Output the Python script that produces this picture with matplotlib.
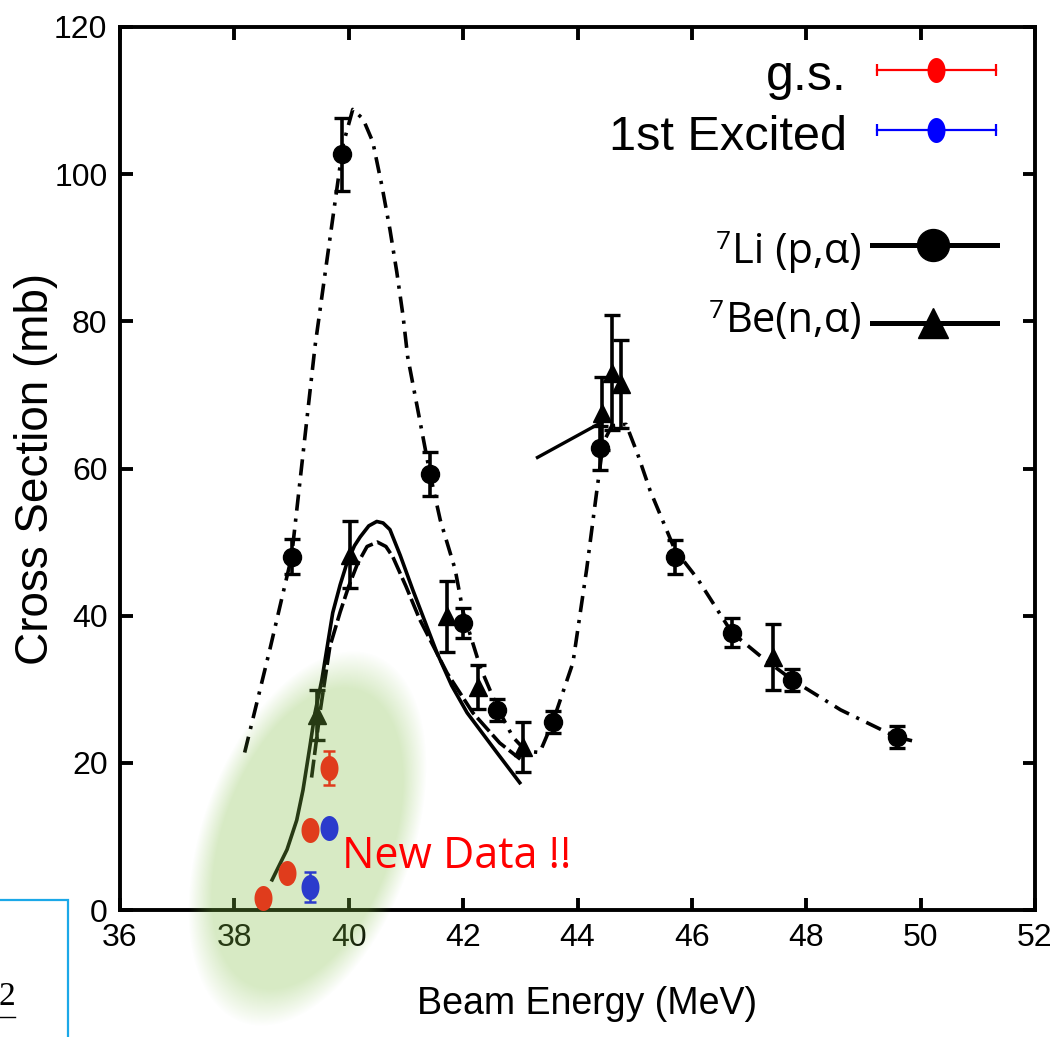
import numpy as np
import matplotlib
matplotlib.use('Agg')
import matplotlib.pyplot as plt
from matplotlib.patches import Rectangle
from matplotlib.lines import Line2D

# ---- dados ----
# 7Li(p,a): pontos experimentais (circulos)
li_x = [39.0, 39.88, 41.42, 42.0, 42.6, 43.57, 44.4, 45.7, 46.7, 47.75, 49.58]
li_y = [48.0, 102.7, 59.3, 39.0, 27.2, 25.6, 62.8, 48.0, 37.7, 31.3, 23.5]
li_err = [2.4, 5.0, 3.0, 2.0, 1.5, 1.5, 3.0, 2.3, 2.0, 1.5, 1.5]

# 7Be(n,a): pontos experimentais (triangulos)
be_x = [39.45, 40.02, 41.72, 42.26, 43.05, 44.43, 44.6, 44.76, 47.42]
be_y = [26.5, 48.3, 39.9, 30.3, 22.2, 67.5, 73.0, 71.5, 34.4]
be_err = [3.4, 4.6, 4.8, 3.0, 3.4, 5.0, 7.8, 6.0, 4.5]

# curva traco-ponto (ajuste 7Li(p,a))
fitA_x = [38.18, 38.62, 39.0, 39.41, 39.62, 39.9, 40.07, 40.25, 40.42, 40.58, 40.72,
          40.84, 40.95, 41.03, 41.42, 41.6, 41.86, 42.0, 42.3, 42.6, 42.87, 43.1,
          43.34, 43.57, 43.92, 44.16, 44.34, 44.45, 44.6, 44.85, 45.05, 45.27, 45.7,
          46.1, 46.7, 47.2, 47.75, 48.6, 49.58, 49.85]
fitA_y = [21.4, 35.4, 48.0, 76.6, 88.4, 104.0, 108.8, 107.5, 104.4, 98.4, 92.5,
          86.7, 80.7, 75.2, 59.3, 53.0, 46.3, 40.5, 33.0, 27.5, 23.5, 21.6,
          21.4, 25.6, 33.6, 46.3, 57.1, 63.5, 65.8, 66.0, 62.0, 57.0, 49.0,
          45.0, 37.7, 34.5, 31.3, 27.2, 23.5, 23.0]

# curva solida (7Be(n,a))
fitB_x = [38.66, 38.92, 39.09, 39.2, 39.32, 39.41, 39.53, 39.72, 39.85, 39.97, 40.1,
          40.2, 40.35, 40.49, 40.6, 40.72, 40.9, 41.12, 41.54, 41.8, 42.07, 42.59, 42.99]
fitB_y = [4.1, 8.2, 12.2, 16.3, 22.2, 26.8, 31.3, 40.4, 44.2, 47.2, 49.5,
          50.7, 52.2, 52.8, 52.6, 51.7, 48.2, 43.5, 35.0, 30.5, 26.8, 21.4, 17.3]

# curva tracejada
fitC_x = [39.35, 39.5, 39.67, 39.85, 40.0, 40.15, 40.32, 40.5, 40.65, 40.77, 41.0,
          41.24, 41.72, 42.17, 42.64, 43.0]
fitC_y = [18.0, 27.0, 35.8, 40.5, 44.0, 47.0, 49.4, 50.0, 49.4, 48.0, 44.0,
          39.5, 32.2, 26.8, 22.7, 20.5]

# segmento solido no segundo pico
segB_x = [43.3, 44.45]
segB_y = [61.5, 66.4]

# novos dados
gs_x = [38.5, 38.92, 39.32, 39.65]
gs_y = [1.6, 5.0, 10.9, 19.3]
gs_err = [1.0, 1.0, 1.0, 2.3]
ex_x = [39.32, 39.65]
ex_y = [3.1, 11.2]
ex_err = [2.0, 1.0]

xticks = [36, 38, 40, 42, 44, 46, 48, 50, 52]
yticks = [0, 20, 40, 60, 80, 100, 120]

NARROW = ['Liberation Sans Narrow', 'Liberation Sans', 'DejaVu Sans']
WIDE = ['Liberation Sans', 'DejaVu Sans']
CAL = ['Open Sans', 'DejaVu Sans']

RED = '#E03C1C'
BLUE = '#2B3BCC'

W, H = 1050, 1037
fig = plt.figure(figsize=(W / 100, H / 100), dpi=100)
ax = fig.add_axes([120 / W, 1 - 910 / H, 915 / W, 883 / H])

# curvas
ax.plot(fitA_x, fitA_y, color='k', lw=2.6, dashes=(4.5, 2.2, 0.9, 2.2), zorder=2)
ax.plot(fitB_x, fitB_y, color='k', lw=2.6, zorder=2)
ax.plot(fitC_x, fitC_y, color='k', lw=2.6, dashes=(5, 1.3), zorder=2)
ax.plot(segB_x, segB_y, color='k', lw=2.4, zorder=2)

# dados antigos
ax.errorbar(li_x, li_y, yerr=li_err, fmt='o', color='k', ms=13, elinewidth=2.6,
            capsize=6, capthick=2.4, zorder=2)
ax.errorbar(be_x, be_y, yerr=be_err, fmt='^', color='k', ms=13, elinewidth=2.6,
            capsize=6, capthick=2.4, zorder=2)

# elipse verde (camada semitransparente em coordenadas de pixel)
gx, gy = np.meshgrid(np.arange(150, 470), np.arange(640, 1037))
cx, cy = 307, 838
ux, uy = 120 / 356, -335 / 356
dx, dy = gx - cx, gy - cy
u = dx * ux + dy * uy
v = -dx * uy + dy * ux
r = np.sqrt((u / 178) ** 2 + (v / 96) ** 2)
alpha = 0.31 * np.clip((1.1 - r) / 0.22, 0, 1)
rgba = np.zeros(gx.shape + (4,))
rgba[..., 0] = 0.50
rgba[..., 1] = 0.74
rgba[..., 2] = 0.26
rgba[..., 3] = alpha
im = ax.imshow(rgba, extent=[150 / W, 470 / W, 1 - 1037 / H, 1 - 640 / H],
               transform=fig.transFigure, origin='upper', aspect='auto',
               interpolation='bilinear', zorder=3)
im.set_clip_on(False)

# novos dados (marcador eliptico)
t = np.linspace(0, 2 * np.pi, 60)
ell = np.c_[0.72 * np.cos(t), np.sin(t)]
ax.errorbar(gs_x, gs_y, yerr=gs_err, fmt='none', ecolor=RED, elinewidth=1.8,
            capsize=4.5, capthick=1.8, zorder=5)
ax.errorbar(ex_x, ex_y, yerr=ex_err, fmt='none', ecolor=BLUE, elinewidth=1.8,
            capsize=4.5, capthick=1.8, zorder=5)
ax.plot(gs_x, gs_y, ls='none', marker=ell, ms=18, color=RED, mew=0, zorder=6)
ax.plot(ex_x, ex_y, ls='none', marker=ell, ms=18, color=BLUE, mew=0, zorder=6)

ax.text(39.88, 5.7, 'New Data !!', color='red', fontsize=31, family=CAL,
        va='baseline', zorder=7)

# eixos
ax.set_xlim(36, 52)
ax.set_ylim(0, 120)
ax.set_xticks(xticks)
ax.set_yticks(yticks)
ax.tick_params(direction='in', length=9, width=2.8, top=True, right=True,
               labelsize=23, pad=9)
for lab in ax.get_xticklabels() + ax.get_yticklabels():
    lab.set_family(NARROW)
for s in ax.spines.values():
    s.set_linewidth(2.8)
ax.set_xlabel('Beam Energy (MeV)', fontsize=27, family=NARROW)
ax.set_ylabel('Cross Section (mb)', fontsize=33, family=WIDE)
ax.xaxis.set_label_coords(0.51, -0.086)
ax.yaxis.set_label_coords(-0.068, 0.5)

# legenda desenhada a mao
T = ax.transAxes
ax.text(0.7945, 0.9287, 'g.s.', transform=T, ha='right', va='baseline',
        fontsize=36, family=NARROW)
ax.text(0.7945, 0.8607, '1st Excited', transform=T, ha='right', va='baseline',
        fontsize=35, family=NARROW)
for yk, col in [(0.9513, 'red'), (0.8833, 'blue')]:
    ax.plot([0.8273, 0.9574], [yk, yk], transform=T, color=col, lw=1.6)
    ax.plot([0.8273, 0.9574], [yk, yk], transform=T, ls='none', marker='|',
            ms=9, mew=1.6, color=col)
    ax.plot([0.8918], [yk], transform=T, ls='none', marker=ell, ms=18,
            color=col, mew=0)

for yb, yk, name, mk, ms in [(0.7327, 0.7531, 'Li (p,α)', 'o', 23),
                             (0.6546, 0.6648, 'Be(n,α)', '^', 22)]:
    txt = ax.text(0.8109, yb, name, transform=T, ha='right', va='baseline',
                  fontsize=30, family=CAL)
    ax.annotate('7', xy=(0, 1), xycoords=txt, xytext=(-1, 1),
                textcoords='offset points', ha='right', va='top',
                fontsize=19, family=CAL)
    ax.plot([0.8219, 0.9585], [yk, yk], transform=T, color='k', lw=3.6)
    ax.plot([0.8885], [yk], transform=T, ls='none', marker=mk, ms=ms, color='k')

# caixa azul cortada no canto
fig.add_artist(Rectangle((-0.02, -0.05), 0.02 + 68 / W, 0.05 + 1 - 900 / H,
                         transform=fig.transFigure, fill=False,
                         edgecolor='#1BA8E8', lw=1.6))
fig.text(15 / W, 1 - 1005 / H, '2', ha='right', va='baseline', fontsize=24,
         family=['Liberation Serif', 'DejaVu Serif'])
fig.add_artist(Line2D([0, 15 / W], [1 - 1017 / H] * 2, transform=fig.transFigure,
                      color='k', lw=1.0))

fig.savefig('out.png', dpi=100)
